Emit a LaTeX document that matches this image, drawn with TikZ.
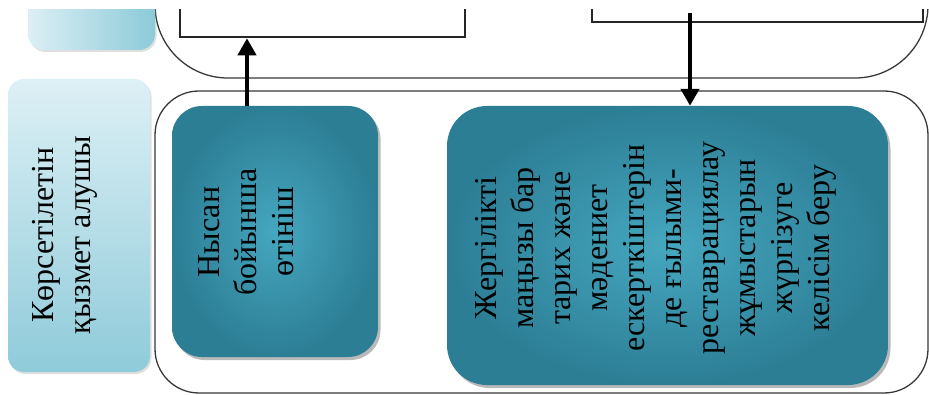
\documentclass[tikz,border=0pt]{standalone}
\usepackage{fontspec}
\setmainfont{Liberation Serif}
\usetikzlibrary{arrows.meta,shadows,calc}
\definecolor{lbA}{HTML}{DCEFF5}
\definecolor{lbB}{HTML}{8CCAD8}
\definecolor{lbC}{HTML}{DDF0F5}
\definecolor{lbD}{HTML}{8FCBDA}
\definecolor{tealIn}{HTML}{45A7BF}
\definecolor{tealOut}{HTML}{2C7E95}
\definecolor{frameGray}{HTML}{383838}
\tikzset{
  frame/.style={draw=frameGray, line width=1.3pt},
  topbox/.style={draw=black!85, line width=2.6pt, fill=none, inner sep=0pt},
  lightbox/.style={rounded corners=16pt, inner sep=0pt,
     drop shadow={shadow xshift=1.5pt, shadow yshift=-2pt, opacity=0.25}},
  tealbox/.style={inner color=tealIn, outer color=tealOut, inner sep=0pt,
     drop shadow={shadow xshift=2.5pt, shadow yshift=-3pt, opacity=0.55}},
  vtext/.style={rotate=90, align=center, inner sep=0pt, text=black,
     font=\fontsize{32}{37}\selectfont},
  arr/.style={line width=4.2pt, -{Triangle[width=18pt,length=17pt]}}
}
\begin{document}
\begin{tikzpicture}[x=1pt,y=-1pt]
\useasboundingbox (0,0) rectangle (929,395);
\begin{scope}
\clip (0,10) rectangle (929,395);
% outer frames
\draw[frame, rounded corners=73pt] (155,-150) -- (155,78) -- (928,78) -- (928,-150);
\draw[frame, rounded corners=44pt] (155,91) rectangle (928,393);
% light boxes
\node[lightbox, left color=lbA, right color=lbB, minimum width=127pt, minimum height=100pt]
  (lt) at (91.5,0) {};
\node[lightbox, top color=lbC, bottom color=lbD, minimum width=142pt, minimum height=293pt]
  (recv) at (79,225.5) {};
\node[vtext] (recvtxt) at (65,235) {Көрсетілетін\\қызмет алушы};
% top rectangles
\node[topbox, minimum width=285pt, minimum height=100pt] (ltop) at (322.5,-13) {};
\node[topbox, minimum width=331pt, minimum height=100pt] (rtop) at (757.5,-28) {};
% teal boxes
\node[tealbox, rounded corners=30pt, minimum width=206pt, minimum height=251pt]
  (b1) at (275,231.5) {};
\node[vtext] (b1txt) at (246,232) {Нысан\\бойынша\\өтініш};
\node[tealbox, rounded corners=40pt, minimum width=441pt, minimum height=279pt]
  (b2) at (667.5,245.5) {};
\node[vtext] (b2txt) at (656,248) {Жергілікті\\маңызы бар\\тарих және\\мәдениет\\ескерткіштерін\\де ғылыми-\\реставрациялау\\жұмыстарын\\жүргізуге\\келісім беру};
% arrows
\coordinate (ua) at (247,0);
\coordinate (da) at (690,13);
\draw[arr] (b1.north -| ua) -- (ltop.south -| ua);
\draw[arr] (da) -- (b2.north -| da);
\end{scope}
\end{tikzpicture}
\end{document}
